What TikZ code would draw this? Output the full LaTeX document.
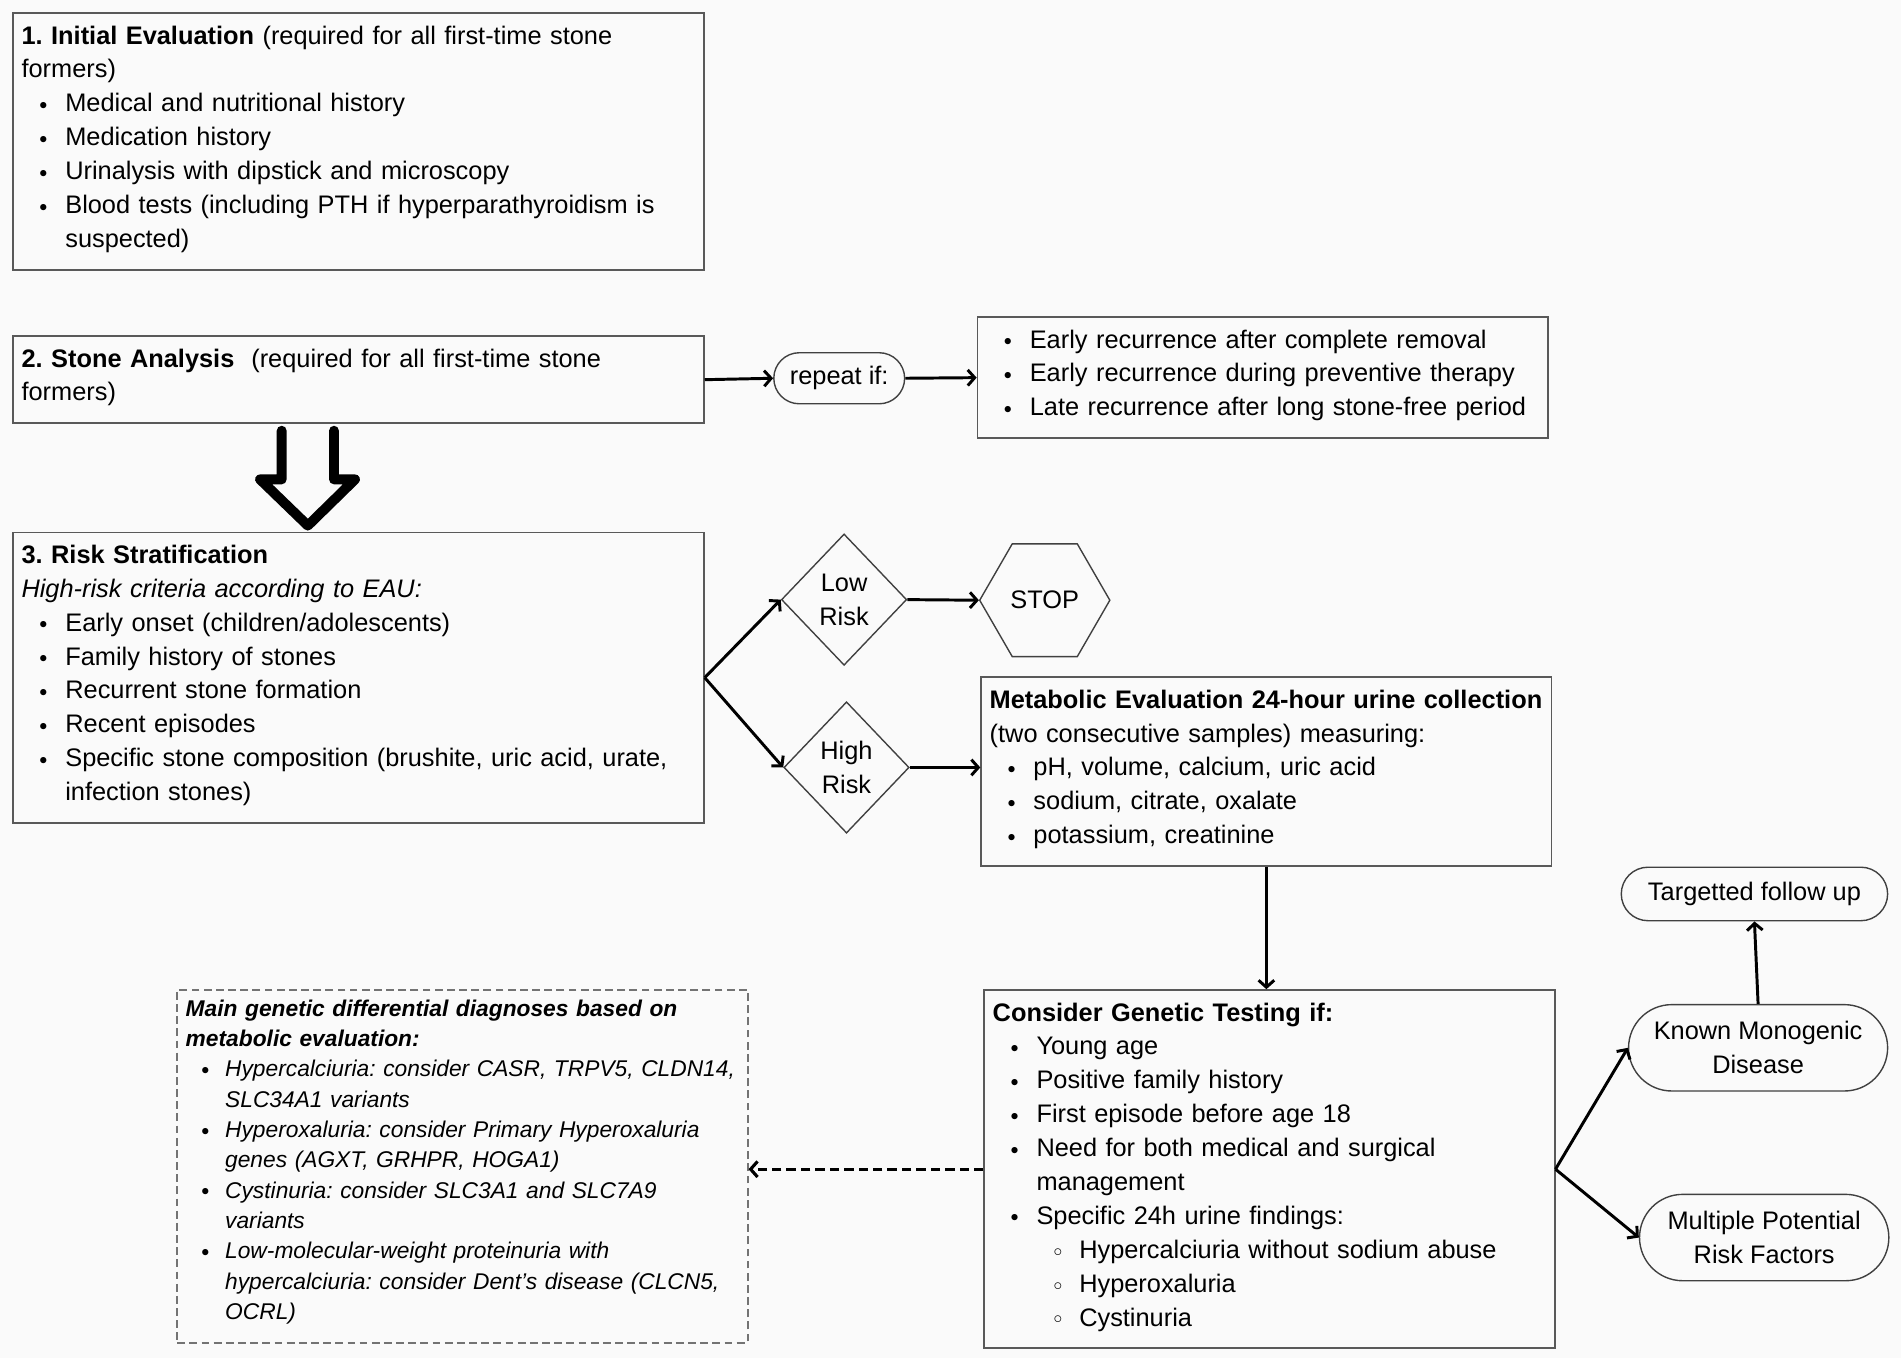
\documentclass[tikz,border=0pt]{standalone}
\usepackage{fontspec}
\setmainfont{Liberation Sans}
\usetikzlibrary{shapes.geometric,shapes.misc,arrows.meta}
\setlength{\parindent}{0pt}
\frenchspacing
\definecolor{bgc}{RGB}{250,250,250}

\newcommand{\fsmain}{\fontsize{14.6}{19.5}\selectfont}
\newcommand{\fssmall}{\fontsize{13.1}{17.45}\selectfont}
% first and last line struts, text sits a little high in the boxes
\newcommand{\tstr}{\rule{0pt}{12.25pt}}
\newcommand{\bstr}{\rule[-7.25pt]{0pt}{7.25pt}}
\newcommand{\tstrs}{\rule{0pt}{9.7pt}}
\newcommand{\bstrs}{\rule[-7.75pt]{0pt}{7.75pt}}
\newcommand{\dotb}{\raisebox{1.4pt}{\fontsize{9}{9}\selectfont$\bullet$}}
\newcommand{\ringb}{\raisebox{1.2pt}{\fontsize{10}{10}\selectfont$\circ$}}
\newcommand{\itm}[1]{\makebox[25.2pt][c]{\dotb}\mbox{#1}}
\newcommand{\ctn}[1]{\hspace*{25.2pt}\mbox{#1}}
\newcommand{\subitm}[1]{\hspace*{25.2pt}\makebox[24.6pt][c]{\ringb}\mbox{#1}}
\newcommand{\sitm}[1]{\makebox[22.7pt][c]{\dotb}\mbox{#1}}
\newcommand{\sctn}[1]{\hspace*{22.7pt}\mbox{#1}}

\begin{document}
\begin{tikzpicture}[x=0.7pt, y=-0.7pt,
  box/.style={draw=black!65, line width=1pt, anchor=north west, align=left,
    inner xsep=4.9pt, inner ysep=5.6pt, font=\fsmain},
  wide/.style={text width=387.8pt},
  narrow/.style={text width=318.5pt},
  rnd/.style={rounded rectangle, draw=black!75, line width=0.8pt, font=\fsmain,
    align=center, inner sep=0pt},
  dec/.style={diamond, draw=black!75, line width=0.8pt, font=\fsmain,
    align=center, inner sep=0pt, minimum width=72.1pt, minimum height=75.6pt},
  arr/.style={line width=1.7pt, -{Straight Barb[length=4pt,width=9pt]}},
  darr/.style={arr, line width=1.8pt, dash pattern=on 5.4pt off 2.9pt},
  bigarr/.style={line width=5.7pt, line join=round, line cap=round}]

\fill[bgc] (0,0) rectangle (1563,1116.5);

% left column
\node[box, wide] (init) at (10,10) {\tstr\mbox{\textbf{1. Initial Evaluation} (required for all first-time stone}\\
formers)\\
\itm{Medical and nutritional history}\\
\itm{Medication history}\\
\itm{Urinalysis with dipstick and microscopy}\\
\itm{Blood tests (including PTH if hyperparathyroidism is}\\
\ctn{suspected)\bstr}};

\node[box, wide] (anl) at (10,275.6) {\tstr\mbox{\textbf{2. Stone Analysis}\ \ (required for all first-time stone}\\
formers)\bstr};

\node[box, wide] (risk) at (10,437) {\tstr\textbf{3. Risk Stratification}\\
\textit{High-risk criteria according to EAU:}\\
\itm{Early onset (children/adolescents)}\\
\itm{Family history of stones}\\
\itm{Recurrent stone formation}\\
\itm{Recent episodes}\\
\itm{Specific stone composition (brushite, uric acid, urate,}\\
\ctn{infection stones)\bstr}};

% repeat branch
\node[rnd, minimum width=75.3pt, minimum height=29.4pt] (rep) at (690,311) {repeat if:};
\node[box, narrow] (rec) at (803,260) {\tstr\itm{Early recurrence after complete removal}\\
\itm{Early recurrence during preventive therapy}\\
\itm{Late recurrence after long stone-free period\bstr}};

% risk branches
\node[dec] (low) at (694,493) {Low\\Risk};
\node[dec] (high) at (696,631) {High\\Risk};
\node[regular polygon, regular polygon sides=6, draw=black!75, line width=0.8pt,
  font=\fsmain, inner sep=0pt, minimum size=74.9pt] (stop) at (859,493.5) {STOP};

\node[box, narrow] (meta) at (806,556) {\tstr\mbox{\textbf{Metabolic Evaluation 24-hour urine collection}}\\
(two consecutive samples) measuring:\\
\itm{pH, volume, calcium, uric acid}\\
\itm{sodium, citrate, oxalate}\\
\itm{potassium, creatinine\bstr}};

\node[box, narrow] (gen) at (808.5,813.3) {\tstr\textbf{Consider Genetic Testing if:}\\
\itm{Young age}\\
\itm{Positive family history}\\
\itm{First episode before age 18}\\
\itm{Need for both medical and surgical}\\
\ctn{management}\\
\itm{Specific 24h urine findings:}\\
\subitm{Hypercalciuria without sodium abuse}\\
\subitm{Hyperoxaluria}\\
\subitm{Cystinuria\bstr}};

\node[box, narrow, draw=black!55, dash pattern=on 4.5pt off 2.5pt,
  font=\fssmall\itshape] (diff) at (145,813) {\tstrs\textbf{Main genetic differential diagnoses based on}\\
\textbf{metabolic evaluation:}\\
\sitm{Hypercalciuria: consider CASR, TRPV5, CLDN14,}\\
\sctn{SLC34A1 variants}\\
\sitm{Hyperoxaluria: consider Primary Hyperoxaluria}\\
\sctn{genes (AGXT, GRHPR, HOGA1)}\\
\sitm{Cystinuria: consider SLC3A1 and SLC7A9}\\
\sctn{variants}\\
\sitm{Low-molecular-weight proteinuria with}\\
\sctn{hypercalciuria: consider Dent's disease (CLCN5,}\\
\sctn{OCRL)\bstrs}};

% outcomes
\node[rnd, minimum width=153.3pt, minimum height=30.8pt] (tgt) at (1442.5,735) {Targetted follow up};
\node[rnd, minimum width=149.1pt, minimum height=49.7pt] (known) at (1445.5,861.5) {Known Monogenic\\Disease};
\node[rnd, minimum width=143.5pt, minimum height=49.7pt] (mult) at (1450.5,1017.5) {Multiple Potential\\Risk Factors};

% connectors
\draw[bigarr] (anl.south west) ++(221.6,5.4) -- ++(0,40) -- ++(-17.8,0) -- ++(39.3,38)
  -- ++(38.8,-38) -- ++(-17.3,0) -- ++(0,-40);
\draw[arr] (anl.east) -- (rep.west);
\draw[arr] (rep.east) -- (rec.west);
\draw[arr] (risk.east) -- (low.west);
\draw[arr] (risk.east) -- (high.west);
\draw[arr] (low.east) -- (stop.west);
\draw[arr] (high.east) -- (high.east -| meta.west);
\draw[arr] (meta.south) -- (meta.south |- gen.north);
\draw[darr] (gen.west) -- (gen.west -| diff.east);
\draw[arr] (gen.east) -- (known.west);
\draw[arr] (gen.east) -- (mult.west);
\draw[arr] (known.north) -- (tgt.south);
\end{tikzpicture}
\end{document}
